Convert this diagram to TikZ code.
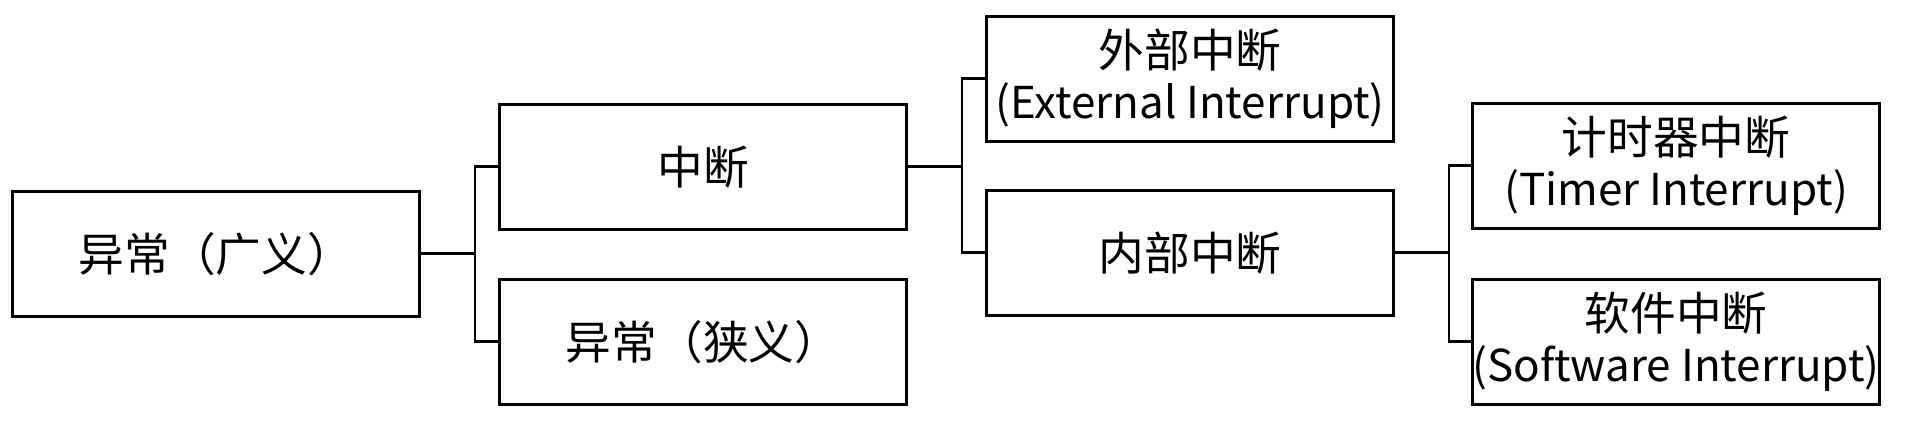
\documentclass[tikz,border=0pt]{standalone}
\usepackage{fontspec}
\setmainfont{Noto Sans CJK SC}
\usetikzlibrary{positioning,calc}
\newcommand{\enl}[1]{\makebox[40.7mm]{\fontsize{12.5pt}{14.6pt}\selectfont #1}}
\tikzset{
  blk/.style  ={rectangle, draw=black, line width=0.85pt, fill=white,
                align=center, font=\fontsize{13pt}{14.6pt}\selectfont,
                minimum width=40.7mm, minimum height=12.5mm, inner sep=0pt},
  brk/.style  ={draw=black, line width=0.85pt}
}
\begin{document}
\begin{tikzpicture}[x=1cm,y=1cm]
  \useasboundingbox (0,0) rectangle (19.10,4.31);
  % --- level 0
  \node[blk] (gen)  at (2.16,1.77)  {异常（广义）};
  % --- level 1
  \node[blk] (intr) at (7.03,2.64)  {中断};
  \node[blk] (exc)  at (7.03,0.89)  {异常（狭义）};
  % --- level 2
  \node[blk] (ext)  at (11.90,3.52) {外部中断\\\enl{(External Interrupt)}};
  \node[blk] (inn)  at (11.90,1.78) {内部中断};
  % --- level 3
  \node[blk] (tmr)  at (16.76,2.65) {计时器中断\\\enl{(Timer Interrupt)}};
  \node[blk] (sw)   at (16.76,0.89) {软件中断\\\enl{(Software Interrupt)}};

  \draw[brk] (gen.east) -- ++(0.54,0) |- (intr.west);
  \draw[brk] (gen.east) -- ++(0.54,0) |- (exc.west);
  \draw[brk] (intr.east) -- ++(0.54,0) |- (ext.west);
  \draw[brk] (intr.east) -- ++(0.54,0) |- (inn.west);
  \draw[brk] (inn.east) -- ++(0.54,0) |- (tmr.west);
  \draw[brk] (inn.east) -- ++(0.54,0) |- (sw.west);
\end{tikzpicture}
\end{document}
